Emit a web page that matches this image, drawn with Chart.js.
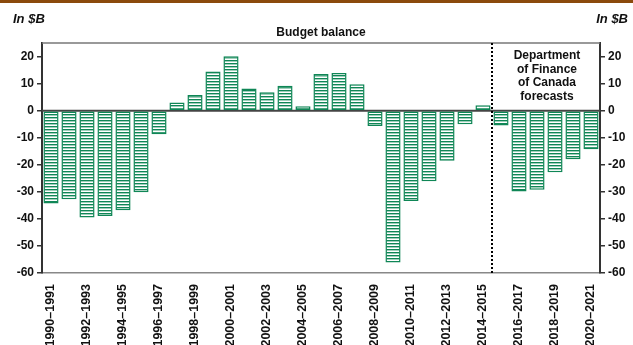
<!DOCTYPE html>
<html>
<head>
<meta charset="utf-8">
<script src="https://cdn.jsdelivr.net/npm/chart.js@4/dist/chart.umd.min.js"></script>
<style>
  html, body { margin: 0; padding: 0; background: #fff; }
  #wrap { position: relative; width: 633px; height: 345px; }
  #topbar { position: absolute; left: 0; top: 0; width: 633px; height: 3px; background: #8b4a0c; }
</style>
</head>
<body>
<div id="wrap">
  <div id="topbar"></div>
  <canvas id="budgetChart" width="633" height="345"></canvas>
</div>
<script>
// Budget balance, in $B (fiscal years)
const years = [
  '1990–1991', '1991–1992', '1992–1993', '1993–1994', '1994–1995', '1995–1996',
  '1996–1997', '1997–1998', '1998–1999', '1999–2000', '2000–2001', '2001–2002',
  '2002–2003', '2003–2004', '2004–2005', '2005–2006', '2006–2007', '2007–2008',
  '2008–2009', '2009–2010', '2010–2011', '2011–2012', '2012–2013', '2013–2014',
  '2014–2015', '2015–2016', '2016–2017', '2017–2018', '2018–2019', '2019–2020',
  '2020–2021'
];
const balance = [
  -34.3, -32.7, -39.5, -38.9, -36.8, -30.2,
  -8.7, 3.0, 5.8, 14.5, 20.1, 8.2,
  6.8, 9.2, 1.6, 13.5, 13.9, 9.8,
  -5.7, -56.1, -33.4, -26.1, -18.5, -5.0,
  2.0, -5.5, -29.9, -29.2, -22.8, -18.0,
  -14.3
];
const yTicks = [-60, -50, -40, -30, -20, -10, 0, 10, 20];
const forecastNote = ['Department', 'of Finance', 'of Canada', 'forecasts'];
const firstForecast = '2015–2016';

const green = '#0f8656';
const FONT = '"Liberation Sans", Arial, sans-serif';

function stripePattern() {
  const c = document.createElement('canvas');
  c.width = 4; c.height = 3;
  const g = c.getContext('2d');
  g.fillStyle = '#fff';
  g.fillRect(0, 0, 4, 3);
  g.fillStyle = green;
  g.fillRect(0, 0, 4, 1.4);
  return g.createPattern(c, 'repeat');
}

const keepTicks = scale => {
  scale.ticks = yTicks.map(v => ({ value: v }));
};

const extras = {
  id: 'extras',
  beforeDatasetsDraw(chart) {
    const { ctx, chartArea, scales } = chart;
    const y0 = scales.y.getPixelForValue(0);
    ctx.save();
    ctx.strokeStyle = '#444';
    ctx.lineWidth = 2;
    ctx.beginPath();
    ctx.moveTo(chartArea.left, y0);
    ctx.lineTo(chartArea.right, y0);
    ctx.stroke();
    ctx.restore();
  },
  afterDraw(chart) {
    const { ctx, chartArea, scales } = chart;
    ctx.save();
    // top frame
    ctx.strokeStyle = '#777';
    ctx.lineWidth = 1.5;
    ctx.beginPath();
    ctx.moveTo(chartArea.left, chartArea.top);
    ctx.lineTo(chartArea.right, chartArea.top);
    ctx.stroke();

    // forecast divider
    const i = years.indexOf(firstForecast);
    const xd = (scales.x.getPixelForValue(i - 1) + scales.x.getPixelForValue(i)) / 2;
    ctx.strokeStyle = '#000';
    ctx.lineWidth = 2;
    ctx.setLineDash([2, 2]);
    ctx.beginPath();
    ctx.moveTo(xd, chartArea.top);
    ctx.lineTo(xd, chartArea.bottom);
    ctx.stroke();
    ctx.setLineDash([]);

    ctx.fillStyle = '#111';
    ctx.font = 'bold 12px ' + FONT;
    ctx.textAlign = 'center';
    ctx.textBaseline = 'alphabetic';
    const xc = (xd + chartArea.right) / 2 + 1;
    forecastNote.forEach((line, k) => ctx.fillText(line, xc, 59 + k * 13.7));

    // unit labels and title
    ctx.font = 'italic bold 13px ' + FONT;
    ctx.textAlign = 'left';
    ctx.fillText('In $B', 13, 23);
    ctx.textAlign = 'right';
    ctx.fillText('In $B', 628, 23);
    ctx.font = 'bold 12px ' + FONT;
    ctx.textAlign = 'center';
    ctx.fillText('Budget balance', 321, 36);
    ctx.restore();
  }
};

window.addEventListener('DOMContentLoaded', () => {
  const ctx = document.getElementById('budgetChart').getContext('2d');
  const tickFont = { family: FONT, size: 12, weight: 'bold' };
  new Chart(ctx, {
    type: 'bar',
    data: {
      labels: years,
      datasets: [{
        label: 'Budget balance',
        data: balance,
        backgroundColor: stripePattern(),
        borderColor: green,
        borderWidth: 1.5,
        borderSkipped: false,
        barPercentage: 0.84,
        categoryPercentage: 1,
        yAxisID: 'y'
      }]
    },
    options: {
      responsive: false,
      animation: false,
      layout: { padding: { top: 43, left: 0, right: 0, bottom: 0 } },
      plugins: {
        legend: { display: false },
        tooltip: { enabled: false }
      },
      scales: {
        x: {
          grid: { display: false },
          border: { display: true, color: '#888', width: 1.5 },
          ticks: {
            autoSkip: false,
            minRotation: 90,
            maxRotation: 90,
            padding: 3,
            color: '#111',
            font: { family: FONT, size: 12.5, weight: 'bold' },
            callback: (v, i) => (i % 2 === 0 ? years[i] : '')
          },
          afterFit: s => { s.height = 72; }
        },
        y: {
          position: 'left',
          min: -60,
          max: 25,
          afterBuildTicks: keepTicks,
          grid: { drawOnChartArea: false, drawTicks: true, tickLength: 5, color: '#333', lineWidth: 1.5 },
          border: { display: true, color: '#333', width: 2 },
          ticks: { color: '#111', font: tickFont, padding: 3 },
          afterFit: s => { s.width = 42; }
        },
        y2: {
          position: 'right',
          min: -60,
          max: 25,
          afterBuildTicks: keepTicks,
          grid: { drawOnChartArea: false, drawTicks: true, tickLength: 5, color: '#333', lineWidth: 1.5 },
          border: { display: true, color: '#333', width: 2 },
          ticks: { color: '#111', font: tickFont, padding: 3 },
          afterFit: s => { s.width = 33; }
        }
      }
    },
    plugins: [extras]
  });
});
</script>
</body>
</html>
